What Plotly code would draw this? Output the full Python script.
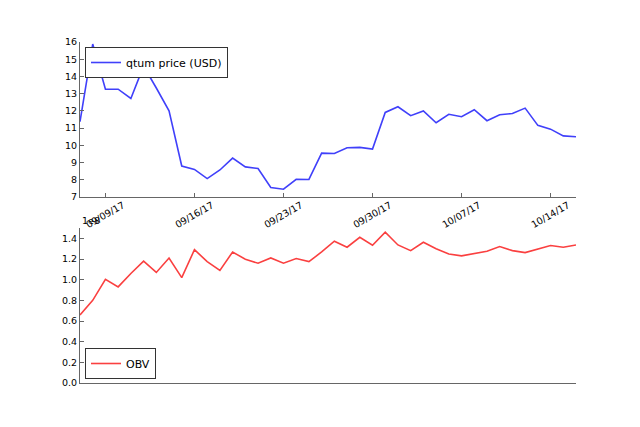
import pandas as pd
import plotly.graph_objects as go

dates = pd.date_range("2017-09-07", "2017-10-16", freq="D")
price = [11.37, 15.88, 13.26, 13.26, 12.72, 14.6, 13.33, 12.0, 8.8, 8.6,
         8.07, 8.57, 9.26, 8.75, 8.65, 7.55, 7.45, 8.03, 8.02, 9.55,
         9.53, 9.86, 9.88, 9.78, 11.91, 12.24, 11.72, 12.0, 11.31, 11.8,
         11.66, 12.07, 11.43, 11.78, 11.85, 12.16, 11.16, 10.94, 10.55, 10.5]
obv_1e8 = [0.658, 0.80, 1.004, 0.93, 1.06, 1.18, 1.07, 1.21, 1.02, 1.29,
           1.175, 1.09, 1.268, 1.197, 1.159, 1.21, 1.159, 1.204, 1.175, 1.268,
           1.372, 1.314, 1.41, 1.333, 1.459, 1.336, 1.281, 1.362, 1.30, 1.249,
           1.23, 1.249, 1.275, 1.32, 1.281, 1.262, 1.294, 1.33, 1.314, 1.336]
date_ticks = pd.date_range("2017-09-09", "2017-10-14", freq="7D")
date_labels = [d.strftime("%m/%d/%y") for d in date_ticks]
obv_ticks = [0.0, 0.2, 0.4, 0.6, 0.8, 1.0, 1.2, 1.4]
obv_labels = ["0.0", "0.2", "0.4", "0.6", "0.8", "1.0", "1.2", "1.4"]

W, H = 640, 427
OFF = 8  # page body offset


def px(x):
    return (x - OFF) / W


def py(y):
    return 1 - (y - OFF) / H


tickfont = dict(family="DejaVu Sans", size=9.5, color="black")
legfont = dict(family="DejaVu Sans", size=11, color="black")
AX = "#666"

fig = go.Figure()
fig.add_trace(go.Scatter(x=dates, y=price, mode="lines", name="qtum price (USD)",
                         line=dict(color="rgb(64,64,250)", width=1.6),
                         xaxis="x", yaxis="y", legend="legend"))
fig.add_trace(go.Scatter(x=dates, y=obv_1e8, mode="lines", name="OBV",
                         line=dict(color="rgb(250,64,64)", width=1.6),
                         xaxis="x2", yaxis="y2", legend="legend2"))

axcommon = dict(showgrid=False, zeroline=False, showline=True, linecolor=AX,
                linewidth=1.2, ticks="inside", ticklen=4, tickcolor=AX,
                tickfont=tickfont, mirror=False, automargin=False)
xr = [dates[0], dates[-1]]

annotations = [dict(text=lab, x=d, y=py(214.5), xref="x", yref="paper",
                    xanchor="center", yanchor="middle", textangle=-30,
                    showarrow=False, font=tickfont)
               for d, lab in zip(date_ticks, date_labels)]
annotations.append(dict(text="1e8", x=px(80), y=py(228), xref="paper", yref="paper",
                        xanchor="left", yanchor="bottom", showarrow=False, font=tickfont))

fig.update_layout(
    template="none",
    width=W, height=H, margin=dict(l=0, r=0, t=0, b=0, autoexpand=False),
    paper_bgcolor="white", plot_bgcolor="white", font=tickfont,
    xaxis=dict(domain=[px(80), px(576)], anchor="y", range=xr, tickvals=date_ticks,
               showticklabels=False, **{k: v for k, v in axcommon.items() if k != "tickfont"}),
    yaxis=dict(domain=[py(197), py(42)], anchor="x", range=[7, 16], dtick=1, **axcommon),
    xaxis2=dict(domain=[px(80), px(576)], anchor="y2", range=xr, showticklabels=False,
                showgrid=False, zeroline=False, showline=True, linecolor=AX,
                linewidth=1.2, ticks="", automargin=False),
    yaxis2=dict(domain=[py(383), py(228)], anchor="x2", range=[0, 1.5],
                tickvals=obv_ticks, ticktext=obv_labels, **axcommon),
    legend=dict(x=px(85), y=py(47), xanchor="left", yanchor="top", bgcolor="white",
                bordercolor="#333", borderwidth=1, font=legfont, itemwidth=30),
    legend2=dict(x=px(85), y=py(379), xanchor="left", yanchor="bottom", bgcolor="white",
                 bordercolor="#333", borderwidth=1, font=legfont, itemwidth=30),
    showlegend=True,
    annotations=annotations,
)
fig.write_html("out.html")
